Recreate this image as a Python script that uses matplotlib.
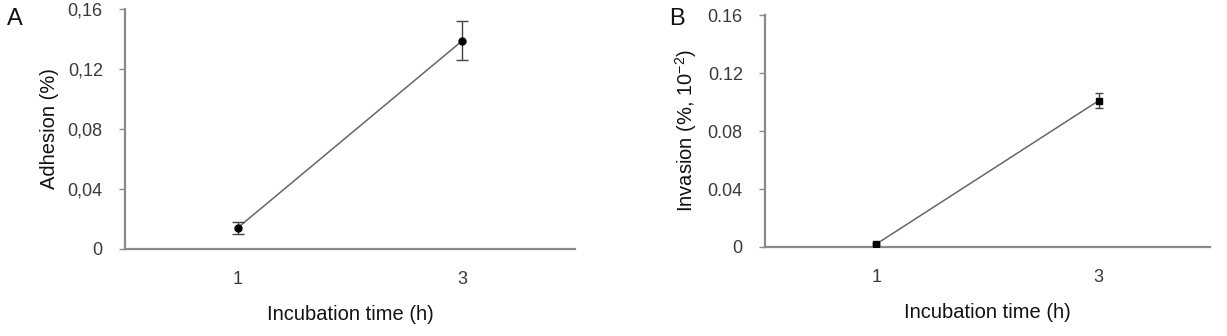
import matplotlib.pyplot as plt

plt.rcParams['font.family'] = ['Liberation Sans', 'DejaVu Sans']
plt.rcParams['mathtext.default'] = 'regular'

times = ["1", "3"]
adhesion = [0.014, 0.139]
adhesion_err = [0.004, 0.013]
invasion = [0.002, 0.101]
invasion_err = [0.0005, 0.005]
yticks = [0, 0.04, 0.08, 0.12, 0.16]
yticklabels_a = ["0", "0,04", "0,08", "0,12", "0,16"]
yticklabels_b = ["0", "0.04", "0.08", "0.12", "0.16"]

fig = plt.figure(figsize=(12.27, 3.36), dpi=100)
ax_a = fig.add_axes([0.1019, 0.259, 0.3667, 0.714])
ax_b = fig.add_axes([0.6235, 0.265, 0.3627, 0.690])

axis_col = "#8a8a8a"
text_col = "#3a3a3a"


def style(ax, values, errs, marker, ms, cap, ylabels, ylabel):
    x = range(len(times))
    ax.plot(x, values, color="#666666", lw=1.1, zorder=2)
    ax.errorbar(x, values, yerr=errs, fmt=marker, color="black", ms=ms,
                ecolor="#444444", elinewidth=1.0, capsize=cap, capthick=1.0, zorder=3)
    ax.set_xlim(-0.5, len(times) - 0.5)
    ax.set_ylim(0, 0.16)
    ax.set_xticks(list(x))
    ax.set_xticklabels(times)
    ax.set_yticks(yticks)
    ax.set_yticklabels(ylabels)
    for s in ["top", "right"]:
        ax.spines[s].set_visible(False)
    for s in ["left", "bottom"]:
        ax.spines[s].set_color(axis_col)
        ax.spines[s].set_linewidth(1.6)
    ax.tick_params(axis="y", length=4, width=1, color=axis_col, labelsize=13,
                   labelcolor=text_col, pad=12)
    ax.tick_params(axis="x", length=0, labelsize=13, labelcolor=text_col, pad=16)
    ax.set_xlabel("Incubation time (h)", fontsize=14.5, color="#111111", labelpad=12)
    ax.set_ylabel(ylabel, fontsize=14.5, color="#111111", labelpad=6)


style(ax_a, adhesion, adhesion_err, "o", 5, 4, yticklabels_a, "Adhesion (%)")
style(ax_b, invasion, invasion_err, "s", 4.5, 3, yticklabels_b, "Invasion (%, 10$^{-2}$)")

fig.text(0.006, 0.925, "A", fontsize=17, color="#111111")
fig.text(0.545, 0.925, "B", fontsize=17, color="#111111")

fig.savefig("out.png", dpi=100)
